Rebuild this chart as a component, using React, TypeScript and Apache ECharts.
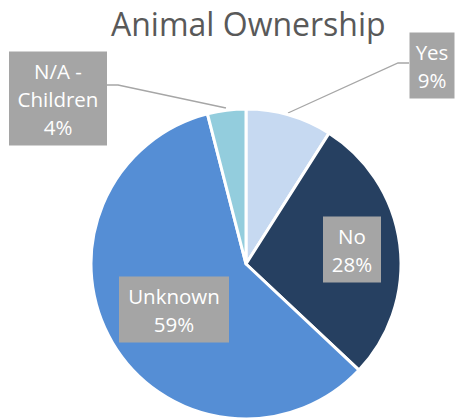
import React, { useEffect, useRef } from "react";
import * as echarts from "echarts";

const categories = ["Yes", "No", "Unknown", "N/A - Children"];
const labelNames = ["Yes", "No", "Unknown", "N/A -\nChildren"];
const values = [9, 28, 59, 4];
const colors = ["#c6d9f1", "#264061", "#558ed5", "#93cddd"];

// label box centres, text widths and leader-line points (layout only)
const labelPos = [
  { x: 432, y: 65.5 },
  { x: 352, y: 249.5 },
  { x: 174, y: 309.5 },
  { x: 58, y: 98.5 },
];
const labelBox = [
  { w: 35, pad: [5, 5] },
  { w: 38, pad: [5, 10] },
  { w: 90, pad: [5, 10] },
  { w: 82, pad: [5, 8] },
];
const leaderPts: (number[][] | null)[] = [
  [[288, 113], [398, 63], [409, 63]],
  null,
  null,
  [[226, 108], [118, 85], [107, 85]],
];

export default function App() {
  const ref = useRef<HTMLDivElement>(null);
  useEffect(() => {
    if (!ref.current) return;
    const chart = echarts.init(ref.current, null, { renderer: "svg" });
    chart.setOption({
      animation: false,
      title: {
        text: "Animal Ownership",
        left: 106,
        top: 2,
        textStyle: {
          fontFamily: "Open Sans",
          fontSize: 32,
          fontWeight: "normal",
          color: "#595959",
        },
      },
      series: [
        {
          type: "pie",
          center: [246, 264],
          radius: 155,
          startAngle: 90,
          clockwise: true,
          percentPrecision: 0,
          itemStyle: { borderColor: "#ffffff", borderWidth: 3 },
          label: {
            show: true,
            position: "outside",
            overflow: "none",
            formatter: (p: any) => labelNames[p.dataIndex] + "\n" + Math.round(p.percent) + "%",
            fontFamily: "Open Sans",
            fontSize: 20.5,
            lineHeight: 28,
            color: "#ffffff",
            backgroundColor: "#a5a5a5",
            align: "center",
          },
          labelLine: {
            show: true,
            lineStyle: { color: "#a6a6a6", width: 1.3 },
          },
          labelLayout: (params: any) => {
            const i = params.dataIndex;
            const r: any = {
              x: labelPos[i].x,
              y: labelPos[i].y,
              align: "center",
              verticalAlign: "middle",
            };
            if (leaderPts[i]) r.labelLinePoints = leaderPts[i];
            return r;
          },
          data: categories.map((c, i) => ({
            name: c,
            value: values[i],
            itemStyle: { color: colors[i] },
            label: { width: labelBox[i].w, padding: labelBox[i].pad },
            labelLine: { show: leaderPts[i] !== null },
          })),
        },
      ],
    });
    return () => chart.dispose();
  }, []);
  return (
    <div
      ref={ref}
      style={{ position: "fixed", left: 0, top: 0, width: 455, height: 420, background: "#ffffff" }}
    />
  );
}
